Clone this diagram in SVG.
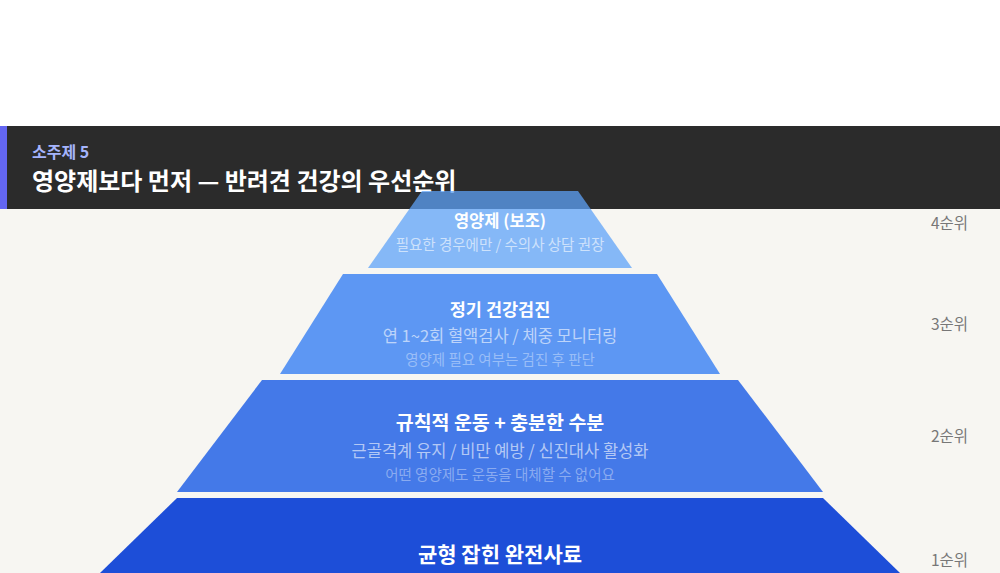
<svg xmlns="http://www.w3.org/2000/svg" width="1000" height="573" viewBox="0 0 1000 573">
<style>
text{font-family:"Noto Sans CJK KR","Noto Sans",sans-serif}
.t{fill:#fff;font-weight:700;text-anchor:middle}
.s{fill:#fff;fill-opacity:.6;text-anchor:middle}
.n{fill:#fff;fill-opacity:.38;text-anchor:middle;font-size:14.5px}
.r{fill:#777;font-size:15.5px;text-anchor:end}
</style>
<rect width="1000" height="573" fill="#f7f6f2"/>
<rect width="1000" height="126" fill="#fff"/>
<g id="header">
<rect y="126" width="1000" height="83" fill="#2b2b2b"/>
<rect y="126" width="7" height="83" fill="#6366f1"/>
<text x="32" y="158" font-size="16" font-weight="700" fill="#a5b4fc">소주제 5</text>
<text x="32" y="190" font-size="24" font-weight="700" fill="#fff">영양제보다 먼저 — 반려견 건강의 우선순위</text>
</g>
<g id="tier4">
<polygon points="422,191 578,191 632,268 368,268" fill="#5da2f8" fill-opacity=".74"/>
<text class="t" x="500" y="227" font-size="16.5">영양제 (보조)</text>
<text class="s" x="500" y="250" font-size="14.5">필요한 경우에만 / 수의사 상담 권장</text>
<text class="r" x="968" y="229">4순위</text>
</g>
<g id="tier3">
<polygon points="343,274 657,274 720,374 280,374" fill="#5d97f3"/>
<text class="t" x="500" y="316" font-size="17.5">정기 건강검진</text>
<text class="s" x="500" y="342" font-size="16.5">연 1~2회 혈액검사 / 체중 모니터링</text>
<text class="n" x="500" y="365">영양제 필요 여부는 검진 후 판단</text>
<text class="r" x="968" y="330">3순위</text>
</g>
<g id="tier2">
<polygon points="262,380 738,380 823,492 177,492" fill="#4479e8"/>
<text class="t" x="500" y="430" font-size="19.5">규칙적 운동 + 충분한 수분</text>
<text class="s" x="500" y="457" font-size="16.5">근골격계 유지 / 비만 예방 / 신진대사 활성화</text>
<text class="n" x="500" y="480">어떤 영양제도 운동을 대체할 수 없어요</text>
<text class="r" x="968" y="442">2순위</text>
</g>
<g id="tier1">
<polygon points="177,498 823,498 900,573 100,573" fill="#1d4ed8"/>
<text class="t" x="500" y="562" font-size="21">균형 잡힌 완전사료</text>
<text class="r" x="968" y="566">1순위</text>
</g>
<g id="connectors"/>
</svg>
